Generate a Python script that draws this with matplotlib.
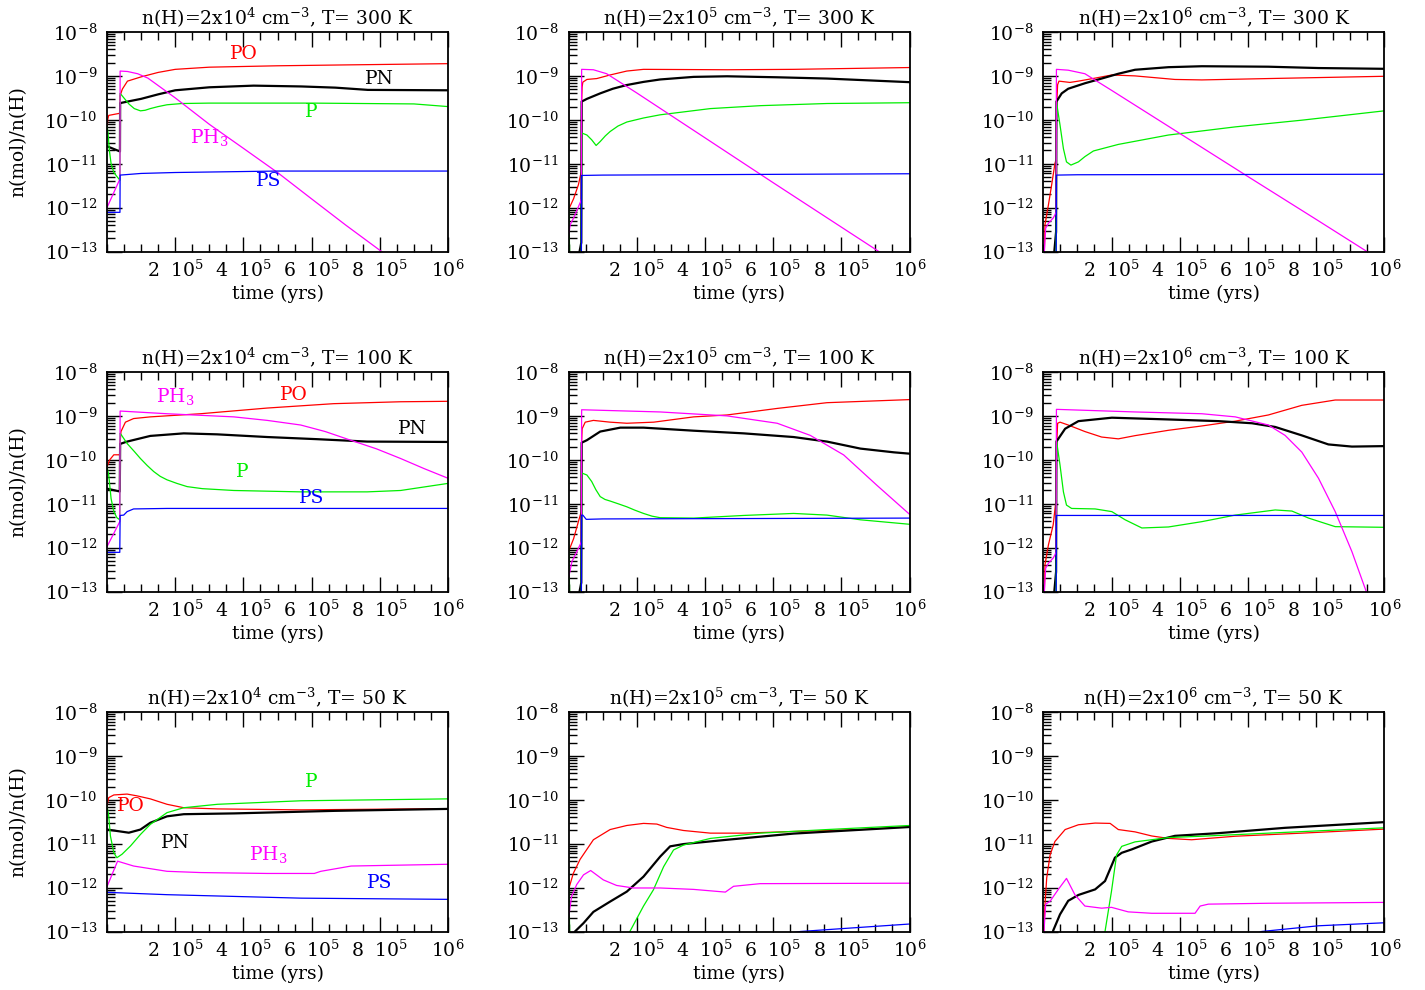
import matplotlib
matplotlib.use("Agg")
import matplotlib.pyplot as plt
from matplotlib.ticker import FixedLocator, MultipleLocator, LogLocator, NullFormatter

plt.rcParams['font.family'] = ['DejaVu Serif']
plt.rcParams['mathtext.fontset'] = 'dejavuserif'

# ---------------- data (time in kyr, abundance n(mol)/n(H)) ----------------
# Panel A: n(H)=2x10^4, T=300 K
A_PO_t = [0, 2, 5, 38, 38.5, 45, 60, 100, 150, 200, 300, 500, 700, 1000]
A_PO = [5.0e-11, 1.0e-10, 1.26e-10, 1.41e-10, 3.55e-10, 5.0e-10, 7.6e-10, 9.5e-10, 1.2e-9, 1.41e-9, 1.58e-9, 1.7e-9, 1.78e-9, 1.9e-9]
A_PN_t = [0, 38, 38.5, 60, 100, 150, 200, 300, 430, 570, 670, 765, 1000]
A_PN = [2.5e-11, 1.9e-11, 2.4e-10, 2.6e-10, 3.0e-10, 3.8e-10, 4.7e-10, 5.5e-10, 6.0e-10, 5.75e-10, 5.4e-10, 4.8e-10, 4.7e-10]
A_P_t = [0, 3, 7, 12, 20, 30, 38, 38.5, 41, 64, 80, 98, 112, 127, 150, 176, 220, 300, 600, 900, 1000]
A_P = [7.4e-11, 5.0e-11, 2.0e-11, 1.0e-11, 6.3e-12, 5.0e-12, 4.2e-12, 4.0e-10, 3.8e-10, 2.3e-10, 1.8e-10, 1.6e-10, 1.65e-10, 1.8e-10, 2.0e-10, 2.2e-10, 2.35e-10, 2.4e-10, 2.4e-10, 2.3e-10, 2.0e-10]
A_PH3_t = [0, 38, 38.5, 60, 90, 120, 200, 300, 400, 500, 600, 700, 805, 900, 1000]
A_PH3 = [1.0e-12, 4.5e-12, 1.29e-9, 1.26e-9, 1.12e-9, 8.9e-10, 3.16e-10, 7.9e-11, 2.24e-11, 6.3e-12, 1.58e-12, 4.0e-13, 1.0e-13, 2.8e-14, 7.9e-15]
A_PS_t = [0, 38, 38.5, 100, 200, 500, 1000]
A_PS = [7.8e-13, 7.8e-13, 5.5e-12, 6.0e-12, 6.3e-12, 6.8e-12, 6.8e-12]

# Panel B: n(H)=2x10^5, T=300 K
B_PO_t = [0, 15, 29, 37.5, 38.5, 40, 42, 54, 83, 122, 171, 220, 465, 660, 1000]
B_PO = [8.9e-13, 1.6e-12, 3.3e-12, 6.6e-12, 2.5e-10, 5.6e-10, 7.2e-10, 8.3e-10, 8.7e-10, 1.05e-9, 1.29e-9, 1.41e-9, 1.38e-9, 1.41e-9, 1.55e-9]
B_PN_t = [0, 25, 37.5, 38.5, 54, 93, 130, 171, 220, 269, 367, 465, 612, 758, 1000]
B_PN = [1e-14, 5.0e-14, 1.6e-13, 2.6e-10, 3.0e-10, 4.0e-10, 5.1e-10, 6.2e-10, 7.3e-10, 8.3e-10, 9.5e-10, 9.8e-10, 9.3e-10, 8.7e-10, 7.2e-10]
B_P_t = [0, 4, 8, 37.5, 38.5, 42, 54, 68, 81, 93, 108, 122, 145, 171, 220, 269, 416, 563, 758, 1000]
B_P = [2.0e-12, 5.0e-14, 1e-14, 1e-14, 4.9e-11, 4.9e-11, 4.5e-11, 3.5e-11, 2.6e-11, 3.2e-11, 4.3e-11, 5.4e-11, 7.2e-11, 8.9e-11, 1.1e-10, 1.3e-10, 1.8e-10, 2.1e-10, 2.35e-10, 2.45e-10]
B_PH3_t = [0, 5, 15, 36, 37.5, 38.5, 73, 112, 200, 400, 600, 800, 910, 1000]
B_PH3 = [2.2e-13, 4.1e-13, 5.8e-13, 1.4e-12, 1.6e-12, 1.41e-9, 1.38e-9, 1.12e-9, 4.1e-10, 3.9e-11, 3.7e-12, 3.6e-13, 1.0e-13, 3.5e-14]
B_PS_t = [0, 37.5, 38.5, 100, 1000]
B_PS = [1e-14, 1e-14, 5.4e-12, 5.5e-12, 5.9e-12]

# Panel C: n(H)=2x10^6, T=300 K
C_PO_t = [0, 5, 15, 24.5, 34, 37.5, 38.5, 42, 46, 78, 103, 152, 201, 269, 386, 465, 660, 1000]
C_PO = [1e-14, 4.1e-13, 1.15e-12, 3.3e-12, 1.0e-11, 1.26e-11, 1.6e-10, 6.3e-10, 7.6e-10, 7.1e-10, 7.6e-10, 8.9e-10, 1.05e-9, 1.0e-9, 8.3e-10, 8.1e-10, 8.7e-10, 9.8e-10]
C_PN_t = [0, 30, 37.5, 38.5, 54, 73, 122, 171, 220, 269, 367, 465, 660, 807, 1000]
C_PN = [1e-14, 6.3e-14, 2.8e-13, 2.6e-10, 4.0e-10, 5.1e-10, 6.8e-10, 8.7e-10, 1.12e-9, 1.38e-9, 1.58e-9, 1.66e-9, 1.62e-9, 1.51e-9, 1.45e-9]
C_P_t = [0, 37.5, 38.5, 49, 59, 68, 81, 103, 122, 147, 220, 367, 563, 758, 1000]
C_P = [1e-14, 1e-14, 2.6e-10, 7.6e-11, 2.2e-11, 1.1e-11, 9.3e-12, 1.1e-11, 1.45e-11, 1.95e-11, 2.75e-11, 4.5e-11, 6.9e-11, 9.8e-11, 1.6e-10]
C_PH3_t = [0, 3, 7, 15, 29, 34, 37.5, 38.5, 73, 122, 200, 400, 600, 800, 949, 1000]
C_PH3 = [1e-14, 1e-13, 3.4e-13, 4.4e-13, 5.8e-13, 6.8e-13, 7.9e-13, 1.41e-9, 1.35e-9, 1.12e-9, 4.7e-10, 4.9e-11, 5.1e-12, 5.4e-13, 1.0e-13, 5.6e-14]
C_PS_t = [0, 37.5, 38.5, 100, 1000]
C_PS = [1e-14, 1e-14, 5.5e-12, 5.6e-12, 5.75e-12]

# Panel D: n(H)=2x10^4, T=100 K
D_PO_t = [0, 8, 20, 37.5, 38.5, 41, 54, 78, 127, 274, 470, 665, 861, 1000]
D_PO = [6.9e-11, 1.0e-10, 1.3e-10, 1.3e-10, 2.5e-10, 4.4e-10, 7.2e-10, 8.7e-10, 9.5e-10, 1.12e-9, 1.51e-9, 1.9e-9, 2.1e-9, 2.15e-9]
D_PN_t = [0, 37.5, 38.5, 59, 127, 225, 323, 470, 616, 763, 1000]
D_PN = [2.2e-11, 1.9e-11, 2.3e-10, 2.6e-10, 3.5e-10, 4.0e-10, 3.8e-10, 3.3e-10, 2.95e-10, 2.6e-10, 2.55e-10]
D_P_t = [0, 5, 12, 20, 29, 37.5, 38.5, 41, 59, 80, 98, 118, 137, 156, 176, 205, 235, 280, 372, 568, 763, 861, 959, 1000]
D_P = [6.9e-11, 4.5e-11, 1.3e-11, 6.6e-12, 4.8e-12, 4.3e-12, 4.0e-10, 3.8e-10, 2.35e-10, 1.55e-10, 1.07e-10, 7.4e-11, 5.4e-11, 4.2e-11, 3.5e-11, 2.9e-11, 2.45e-11, 2.2e-11, 2.0e-11, 1.86e-11, 1.86e-11, 2.0e-11, 2.6e-11, 2.9e-11]
D_PH3_t = [0, 37.5, 38.5, 176, 372, 470, 568, 640, 714, 790, 861, 930, 1000]
D_PH3 = [1.05e-12, 3.9e-12, 1.29e-9, 1.12e-9, 9.5e-10, 7.9e-10, 6.2e-10, 4.4e-10, 2.8e-10, 1.78e-10, 1.07e-10, 6.3e-11, 3.8e-11]
D_PS_t = [0, 37.5, 38.5, 49, 59, 78, 176, 1000]
D_PS = [7.8e-13, 7.8e-13, 5.4e-12, 5.5e-12, 6.6e-12, 7.6e-12, 7.8e-12, 7.8e-12]

# Panel E: n(H)=2x10^5, T=100 K
E_PO_t = [0, 15, 29, 37.5, 38.5, 40, 49, 73, 122, 171, 250, 367, 465, 612, 758, 1000]
E_PO = [8.1e-13, 1.6e-12, 3.9e-12, 6.6e-12, 2.5e-10, 5.1e-10, 7.2e-10, 7.9e-10, 7.2e-10, 6.8e-10, 7.2e-10, 9.5e-10, 1.05e-9, 1.48e-9, 2.0e-9, 2.35e-9]
E_PN_t = [0, 25, 37.5, 38.5, 54, 93, 152, 220, 367, 514, 660, 758, 856, 954, 1000]
E_PN = [1e-14, 5.0e-14, 1.6e-13, 2.45e-10, 2.8e-10, 4.4e-10, 5.4e-10, 5.4e-10, 4.6e-10, 4.0e-10, 3.3e-10, 2.6e-10, 1.8e-10, 1.48e-10, 1.38e-10]
E_P_t = [0, 4, 8, 37.5, 38.5, 42, 54, 68, 80, 93, 107, 122, 145, 171, 195, 220, 245, 269, 367, 514, 660, 758, 856, 1000]
E_P = [2.0e-12, 5.0e-14, 1e-14, 1e-14, 4.9e-11, 4.9e-11, 4.5e-11, 3.2e-11, 2.1e-11, 1.45e-11, 1.25e-11, 1.15e-11, 1.0e-11, 8.5e-12, 7.1e-12, 6.0e-12, 5.2e-12, 4.8e-12, 4.7e-12, 5.4e-12, 6.0e-12, 5.5e-12, 4.3e-12, 3.4e-12]
E_PH3_t = [0, 10, 24.5, 36, 37.5, 38.5, 269, 465, 612, 709, 807, 905, 1000]
E_PH3 = [2.0e-13, 4.8e-13, 8.1e-13, 1.26e-12, 1.4e-12, 1.38e-9, 1.23e-9, 1.0e-9, 6.8e-10, 3.6e-10, 1.29e-10, 2.6e-11, 5.75e-12]
E_PS_t = [0, 37.5, 38.5, 42, 52, 100, 1000]
E_PS = [1e-14, 1e-14, 5.5e-12, 5.5e-12, 4.4e-12, 4.5e-12, 4.7e-12]

# Panel F: n(H)=2x10^6, T=100 K
F_PO_t = [0, 5, 15, 29, 36, 37.5, 38.5, 42, 49, 73, 122, 171, 220, 269, 367, 465, 563, 660, 758, 856, 1000]
F_PO = [1e-14, 4.1e-13, 1.15e-12, 3.3e-12, 1.0e-11, 1.12e-11, 1.6e-10, 6.8e-10, 7.2e-10, 6.2e-10, 4.4e-10, 3.3e-10, 3.0e-10, 3.55e-10, 4.7e-10, 5.9e-10, 7.6e-10, 1.05e-9, 1.74e-9, 2.3e-9, 2.3e-9]
F_PN_t = [0, 30, 37.5, 38.5, 64, 103, 201, 367, 514, 612, 680, 758, 836, 905, 1000]
F_PN = [1e-14, 6.3e-14, 2.8e-13, 2.6e-10, 5.1e-10, 7.6e-10, 9.1e-10, 8.3e-10, 7.6e-10, 6.8e-10, 5.6e-10, 3.6e-10, 2.24e-10, 2.0e-10, 2.05e-10]
F_P_t = [0, 37.5, 38.5, 49, 59, 68, 83, 152, 201, 240, 289, 367, 465, 563, 680, 729, 778, 856, 1000]
F_P = [1e-14, 1e-14, 2.8e-10, 7.6e-11, 1.86e-11, 9.3e-12, 7.8e-12, 7.6e-12, 6.6e-12, 4.3e-12, 2.8e-12, 2.95e-12, 3.9e-12, 5.5e-12, 7.2e-12, 6.8e-12, 4.7e-12, 3.0e-12, 2.9e-12]
F_PH3_t = [0, 3, 7, 15, 29, 34, 37.5, 38.5, 269, 465, 563, 660, 709, 758, 807, 856, 905, 947, 1000]
F_PH3 = [1e-14, 1e-13, 3.4e-13, 4.4e-13, 5.8e-13, 6.8e-13, 7.9e-13, 1.41e-9, 1.23e-9, 1.12e-9, 9.5e-10, 6.2e-10, 3.6e-10, 1.5e-10, 3.8e-11, 6.6e-12, 8.1e-13, 1.0e-13, 1e-14]
F_PS_t = [0, 37.5, 38.5, 1000]
F_PS = [1e-14, 1e-14, 5.4e-12, 5.4e-12]

# Panel G: n(H)=2x10^4, T=50 K
G_PO_t = [0, 5, 20, 59, 88, 127, 176, 225, 324, 569, 1000]
G_PO = [7.2e-11, 1.12e-10, 1.29e-10, 1.35e-10, 1.23e-10, 1.05e-10, 7.9e-11, 6.6e-11, 6.2e-11, 5.9e-11, 6.3e-11]
G_PN_t = [0, 29, 64, 98, 127, 176, 225, 373, 667, 1000]
G_PN = [2.1e-11, 1.95e-11, 1.78e-11, 2.1e-11, 3.0e-11, 4.2e-11, 4.7e-11, 4.9e-11, 5.6e-11, 6.2e-11]
G_P_t = [0, 5, 10, 20, 29, 44, 69, 98, 127, 176, 225, 324, 569, 1000]
G_P = [7.2e-11, 4.3e-11, 1.5e-11, 6.2e-12, 4.8e-12, 5.75e-12, 8.9e-12, 1.62e-11, 2.75e-11, 5.1e-11, 6.6e-11, 7.9e-11, 9.5e-11, 1.05e-10]
G_PH3_t = [0, 31, 78, 176, 275, 470, 608, 627, 716, 1000]
G_PH3 = [1.05e-12, 4.0e-12, 3.1e-12, 2.35e-12, 2.2e-12, 2.1e-12, 2.1e-12, 2.35e-12, 3.1e-12, 3.4e-12]
G_PS_t = [0, 176, 569, 1000]
G_PS = [7.8e-13, 6.9e-13, 5.75e-13, 5.4e-13]

# Panel H: n(H)=2x10^5, T=50 K
H_PO_t = [0, 14, 34, 73, 122, 171, 220, 259, 288, 337, 416, 513, 660, 856, 1000]
H_PO = [8.9e-13, 2.1e-12, 4.4e-12, 1.23e-11, 2.1e-11, 2.6e-11, 2.9e-11, 2.8e-11, 2.35e-11, 2.0e-11, 1.74e-11, 1.74e-11, 1.9e-11, 2.1e-11, 2.45e-11]
H_PN_t = [0, 19, 44, 73, 122, 171, 220, 269, 298, 337, 465, 660, 1000]
H_PN = [3.2e-14, 1.0e-13, 1.55e-13, 2.8e-13, 4.8e-13, 8.1e-13, 1.78e-12, 5.1e-12, 8.7e-12, 9.8e-12, 1.23e-11, 1.7e-11, 2.4e-11]
H_P_t = [0, 4, 8, 170, 180, 220, 249, 279, 308, 337, 416, 563, 758, 1000]
H_P = [2.0e-12, 6.3e-14, 1e-14, 1e-14, 1.0e-13, 3.8e-13, 8.9e-13, 3.0e-12, 7.2e-12, 9.3e-12, 1.32e-11, 1.74e-11, 2.1e-11, 2.6e-11]
H_PH3_t = [0, 9, 24, 44, 65, 102, 141, 190, 269, 367, 460, 484, 562, 1000]
H_PH3 = [2.0e-13, 6.3e-13, 1.17e-12, 1.95e-12, 2.45e-12, 1.5e-12, 1.12e-12, 9.8e-13, 9.8e-13, 9.1e-13, 7.9e-13, 1.07e-12, 1.23e-12, 1.26e-12]
H_PS_t = [0, 600, 680, 807, 1000]
H_PS = [1e-14, 7.9e-14, 1.0e-13, 1.17e-13, 1.48e-13]

# Panel I: n(H)=2x10^6, T=50 K
I_PO_t = [0, 5, 10, 20, 34, 64, 103, 152, 196, 220, 269, 318, 367, 435, 563, 758, 1000]
I_PO = [6.3e-14, 4.2e-13, 1.66e-12, 5.6e-12, 1.12e-11, 2.1e-11, 2.7e-11, 2.95e-11, 2.9e-11, 2.1e-11, 1.86e-11, 1.5e-11, 1.32e-11, 1.23e-11, 1.48e-11, 1.74e-11, 2.15e-11]
I_PN_t = [0, 29, 49, 73, 103, 152, 181, 210, 230, 259, 318, 386, 514, 709, 1000]
I_PN = [1e-14, 1.05e-13, 2.45e-13, 5.0e-13, 6.8e-13, 9.1e-13, 1.41e-12, 4.8e-12, 6.2e-12, 7.4e-12, 1.12e-11, 1.51e-11, 1.74e-11, 2.3e-11, 3.1e-11]
I_P_t = [0, 170, 181, 200, 215, 230, 269, 367, 465, 660, 1000]
I_P = [1e-14, 1e-14, 1.0e-13, 8.3e-13, 5.6e-12, 8.7e-12, 1.1e-11, 1.38e-11, 1.48e-11, 1.74e-11, 2.3e-11]
I_PH3_t = [0, 2, 7, 20, 44, 68, 93, 122, 171, 200, 249, 318, 445, 460, 484, 660, 1000]
I_PH3 = [1e-14, 1e-13, 4.2e-13, 4.9e-13, 9.1e-13, 1.62e-12, 6.8e-13, 3.8e-13, 3.4e-13, 3.55e-13, 2.8e-13, 2.6e-13, 2.6e-13, 3.8e-13, 4.2e-13, 4.4e-13, 4.6e-13]
I_PS_t = [0, 600, 640, 807, 1000]
I_PS = [1e-14, 7.1e-14, 1.0e-13, 1.35e-13, 1.58e-13]

# species labels (text, time kyr, abundance) for the left column panels
A_labels = [("PO", 400, 3.16e-9), ("PN", 800, 8.5e-10), ("P", 600, 1.5e-10), ("PH$_3$", 300, 3.9e-11), ("PS", 474, 4.1e-12)]
D_labels = [("PH$_3$", 200, 2.8e-9), ("PO", 547, 3.0e-9), ("PN", 897, 5.0e-10), ("P", 397, 5.2e-11), ("PS", 600, 1.35e-11)]
G_labels = [("PO", 70, 7.2e-11), ("P", 600, 2.6e-10), ("PN", 200, 1.05e-11), ("PH$_3$", 474, 5.6e-12), ("PS", 800, 1.3e-12)]

densities = ["4", "5", "6"]
temperatures = ["300", "100", "50"]
species = ["PO", "PN", "P", "PH3", "PS"]
colors = {"PO": "#ff0000", "PN": "#000000", "P": "#00ee00", "PH3": "#ff00ff", "PS": "#0000ff"}
label_keys = {"PO": "PO", "PN": "PN", "P": "P", "PH$_3$": "PH3", "PS": "PS"}

xtick_vals = [2e5, 4e5, 6e5, 8e5, 1e6]
xtick_labels = ["2  10$^{5}$", "4  10$^{5}$", "6  10$^{5}$", "8  10$^{5}$", "10$^{6}$"]
ytick_vals = [1e-13, 1e-12, 1e-11, 1e-10, 1e-9, 1e-8]
ytick_labels = ["10$^{-13}$", "10$^{-12}$", "10$^{-11}$", "10$^{-10}$", "10$^{-9}$", "10$^{-8}$"]

g = globals()
panel_names = [["A", "B", "C"], ["D", "E", "F"], ["G", "H", "I"]]
panel_labels = {"A": A_labels, "D": D_labels, "G": G_labels}

# ---------------- figure ----------------
FW, FH = 1425, 990
fig = plt.figure(figsize=(FW / 100, FH / 100), dpi=100)
col_left = [107, 568.5, 1043.3]
row_top = [32, 372, 712]
AW, AH = 341, 219.5
FS = 13.5

for r in range(3):
    for c in range(3):
        name = panel_names[r][c]
        ax = fig.add_axes([col_left[c] / FW, 1 - (row_top[r] + AH) / FH, AW / FW, AH / FH])
        ax.set_yscale("log")
        for sp in species:
            t = [v * 1e3 for v in g[f"{name}_{sp}_t"]]
            y = g[f"{name}_{sp}"]
            lw = 1.6 if sp == "PN" else 0.9
            ax.plot(t, y, color=colors[sp], lw=lw, solid_joinstyle="round")
        ax.set_xlim(0, 1e6)
        ax.set_ylim(1e-13, 1e-8)
        ax.xaxis.set_major_locator(FixedLocator(xtick_vals))
        ax.set_xticklabels(xtick_labels, fontsize=FS)
        ax.xaxis.set_minor_locator(MultipleLocator(5e4))
        ax.set_yticks(ytick_vals)
        ax.set_yticklabels(ytick_labels, fontsize=FS)
        ax.yaxis.set_minor_locator(LogLocator(base=10, subs=[2, 3, 4, 5, 6, 7, 8, 9], numticks=20))
        ax.yaxis.set_minor_formatter(NullFormatter())
        ax.tick_params(axis="x", which="both", direction="in", top=True, bottom=True, pad=6)
        ax.tick_params(axis="y", which="both", direction="in", left=True, right=False, pad=7)
        ax.tick_params(which="major", length=11, width=1.0)
        ax.tick_params(which="minor", length=5.5, width=1.0)
        for s in ax.spines.values():
            s.set_linewidth(1.3)
        ax.set_title(f"n(H)=2x10$^{{{densities[c]}}}$ cm$^{{-3}}$, T= {temperatures[r]} K",
                     fontsize=FS, pad=5)
        ax.set_xlabel("time (yrs)", fontsize=FS, labelpad=3)
        if c == 0:
            ax.set_ylabel("n(mol)/n(H)", fontsize=FS)
            ax.yaxis.set_label_coords(-0.232, 0.5)
        if name in panel_labels:
            for txt, tk, yv in panel_labels[name]:
                ax.text(tk * 1e3, yv, txt, color=colors[label_keys[txt]], fontsize=FS,
                        ha="center", va="center")

fig.savefig("out.png", dpi=100)
